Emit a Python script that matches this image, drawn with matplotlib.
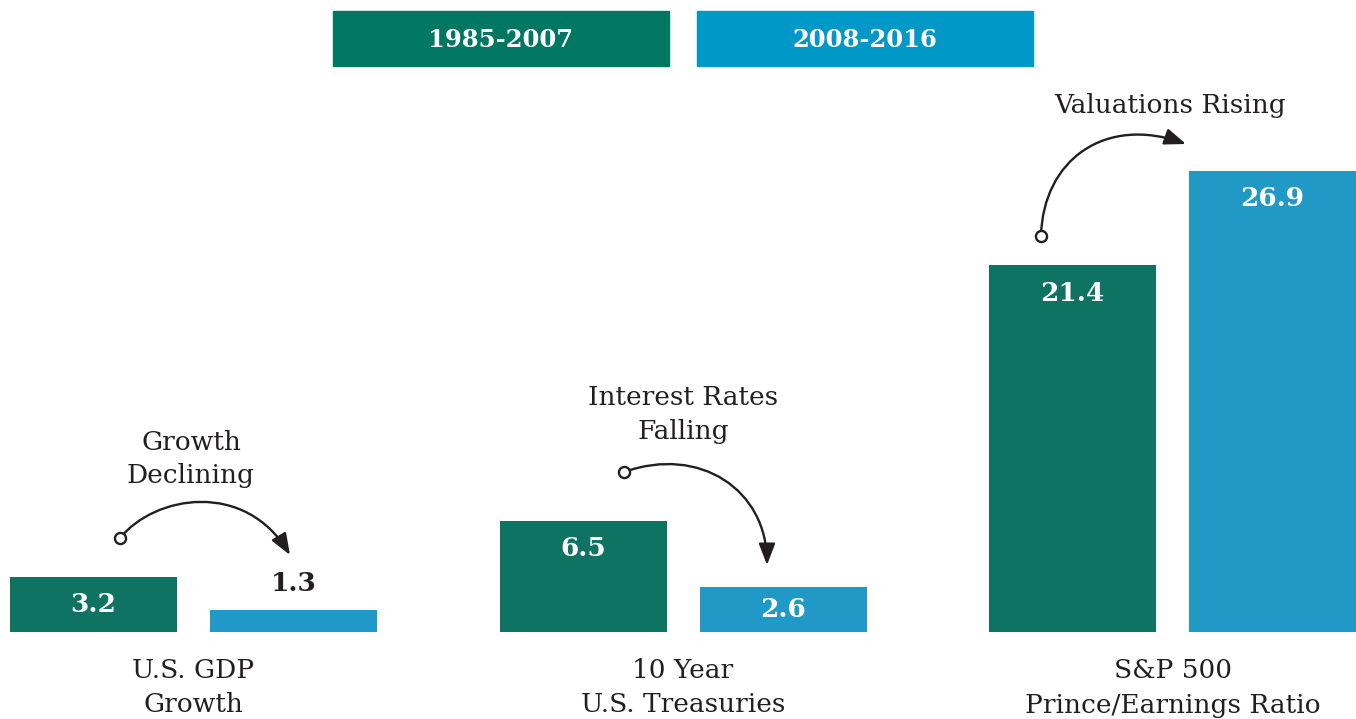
import numpy as np
import matplotlib
matplotlib.use("Agg")
import matplotlib.pyplot as plt
from matplotlib.patches import FancyArrowPatch, Rectangle
from matplotlib.path import Path

# ---------------- Data ----------------
categories = ["U.S. GDP\nGrowth", "10 Year\nU.S. Treasuries", "S&P 500\nPrince/Earnings Ratio"]
period_1 = [3.2, 6.5, 21.4]   # 1985-2007
period_2 = [1.3, 2.6, 26.9]   # 2008-2016
periods = ["1985-2007", "2008-2016"]
notes = ["Growth\nDeclining", "Interest Rates\nFalling", "Valuations Rising"]

GREEN = "#0f7363"
BLUE = "#2199c6"
LEG_GREEN = "#007763"
LEG_BLUE = "#0098c6"
TXT = "#231f20"

plt.rcParams["font.family"] = ["DejaVu Serif"]

W, H = 1356, 719
fig = plt.figure(figsize=(W / 100, H / 100), dpi=100)
ax = fig.add_axes([0, 0, 1, 1])

# pixel geometry -> data scale
ppu_y = 461 / 26.9          # pixels per value unit
base_px = 632                # baseline from top
ppu_x = 489.5                # pixels per group
c0_px = 193.5
ax.set_xlim(-c0_px / ppu_x, (W - c0_px) / ppu_x)
ax.set_ylim(-(H - base_px) / ppu_y, base_px / ppu_y)
ax.axis("off")


def px(xp, yp):
    return (xp - c0_px) / ppu_x, (base_px - yp) / ppu_y


x = np.arange(len(categories))
off = 100 / ppu_x
bw = 167 / ppu_x
ax.bar(x - off, period_1, bw, color=GREEN)
ax.bar(x + off, period_2, bw, color=BLUE)

# value labels
lab_off = 28 / ppu_y
for xs, vals in [(x - off, period_1), (x + off, period_2)]:
    for xi, v in zip(xs, vals):
        if v > 2:
            yl = v - min(lab_off, v / 2)
            c = "white"
        else:
            yl = v + 26 / ppu_y
            c = TXT
        ax.text(xi, yl, f"{v}", ha="center", va="center", color=c,
                fontsize=19, fontweight="bold")

# category labels
for xi, cat in zip(x, categories):
    ax.text(xi, px(0, 688)[1], cat, ha="center", va="center", color=TXT,
            fontsize=19, linespacing=1.45)

# annotations
note_pos = [(191, 459), (683, 415), (1170, 106)]
for (nx, ny), nt in zip(note_pos, notes):
    xx, yy = px(nx, ny)
    ax.text(xx, yy, nt, ha="center", va="center", color=TXT, fontsize=19,
            linespacing=1.45)

curves = [
    [(120, 538), (155, 495), (245, 480), (290, 555)],
    [(624, 472), (700, 445), (767, 490), (767, 565)],
    [(1041, 236), (1043, 160), (1105, 115), (1186, 144)],
]
for pts in curves:
    dpts = [px(*p) for p in pts]
    path = Path(dpts, [Path.MOVETO, Path.CURVE4, Path.CURVE4, Path.CURVE4])
    arr = FancyArrowPatch(path=path, arrowstyle="-|>,head_length=0.65,head_width=0.25",
                          mutation_scale=20, color=TXT, lw=1.7)
    ax.add_patch(arr)
    ax.plot(*dpts[0], marker="o", ms=8, mfc="white", mec=TXT, mew=1.7, zorder=5)

# legend boxes (figure pixels)
for (x0, x1), col, lab in [((333, 669), LEG_GREEN, periods[0]), ((697, 1033), LEG_BLUE, periods[1])]:
    fig.patches.append(Rectangle((x0 / W, 1 - 66 / H), (x1 - x0) / W, 55 / H,
                                 transform=fig.transFigure, color=col))
    fig.text((x0 + x1) / 2 / W, 1 - 40 / H, lab, ha="center", va="center",
             color="white", fontsize=17.5, fontweight="bold")

fig.savefig("out.png", dpi=100)
